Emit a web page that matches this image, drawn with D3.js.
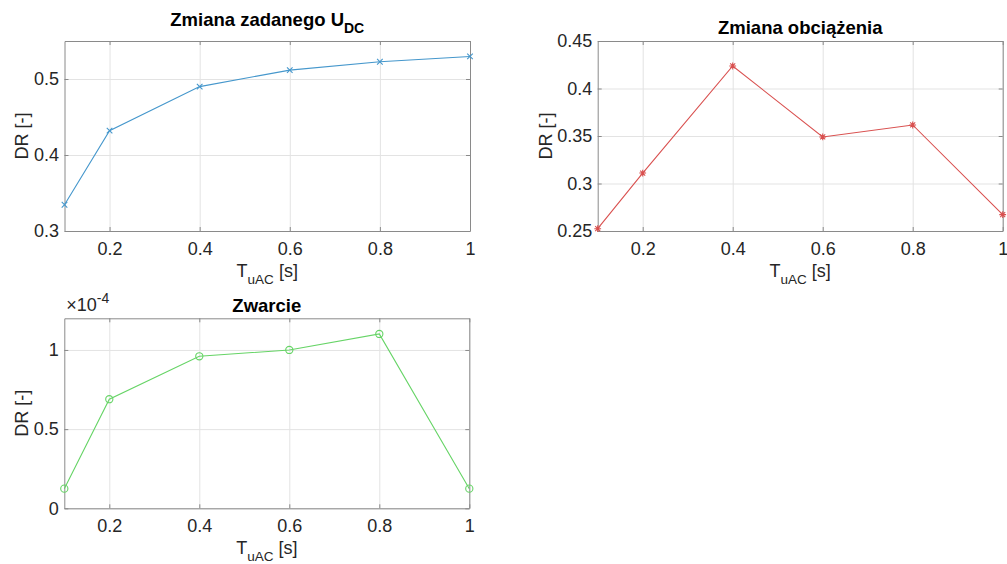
<!DOCTYPE html>
<html>
<head>
<meta charset="utf-8">
<script src="https://cdn.jsdelivr.net/npm/d3@7"></script>
<style>
  html, body { margin: 0; padding: 0; background: #ffffff; }
  svg { display: block; }
  text { font-family: "Liberation Sans", Arial, Helvetica, sans-serif; }
</style>
</head>
<body>
<svg id="chart" width="1007" height="564"></svg>
<script>
// ---- data ----
const tuac = [0.1, 0.2, 0.4, 0.6, 0.8, 1.0];
const drUdc = [0.3345, 0.432, 0.490, 0.5117, 0.5227, 0.5297];
const drLoad = [0.2524, 0.311, 0.4237, 0.349, 0.3616, 0.2672];
const drShort = [1.24e-5, 6.89e-5, 9.60e-5, 1.00e-4, 1.101e-4, 1.24e-5];

const xTicks = [0.2, 0.4, 0.6, 0.8, 1];
const xTickLabels = ["0.2", "0.4", "0.6", "0.8", "1"];
const yTicksUdc = [0.3, 0.4, 0.5];
const yTickLabelsUdc = ["0.3", "0.4", "0.5"];
const yTicksLoad = [0.25, 0.3, 0.35, 0.4, 0.45];
const yTickLabelsLoad = ["0.25", "0.3", "0.35", "0.4", "0.45"];
const yTicksShort = [0, 0.5e-4, 1e-4];
const yTickLabelsShort = ["0", "0.5", "1"];

const svg = d3.select("#chart");

const panels = [
  { left: 64.5, top: 41, width: 405.5, height: 190,
    ydom: [0.3, 0.55], ys: drUdc, yt: yTicksUdc, ytl: yTickLabelsUdc,
    color: "#4597cc", marker: "x", ylabX: -37,
    title: ["Zmiana zadanego U", "DC"], titleDy: -15.3 },
  { left: 597.7, top: 41, width: 405, height: 190,
    ydom: [0.25, 0.45], ys: drLoad, yt: yTicksLoad, ytl: yTickLabelsLoad,
    color: "#d9504f", marker: "star", ylabX: -46,
    title: ["Zmiana obciążenia", null], titleDy: -7 },
  { left: 64.3, top: 318.3, width: 405, height: 190,
    ydom: [0, 1.2e-4], ys: drShort, yt: yTicksShort, ytl: yTickLabelsShort,
    color: "#66d466", marker: "o", ylabX: -36,
    title: ["Zwarcie", null], titleDy: -6.6, exponent: "-4" }
];

panels.forEach(p => {
  const g = svg.append("g").attr("transform", `translate(${p.left},${p.top})`);
  const x = d3.scaleLinear().domain([0.1, 1]).range([0, p.width]);
  const y = d3.scaleLinear().domain(p.ydom).range([p.height, 0]);

  // grid
  g.append("g").attr("class", "grid")
    .call(d3.axisBottom(x).tickValues(xTicks).tickSize(p.height).tickFormat(""))
    .call(s => s.select(".domain").remove())
    .call(s => s.selectAll("line").attr("stroke", "#e3e3e3").attr("stroke-width", 1));
  g.append("g").attr("class", "grid")
    .call(d3.axisLeft(y).tickValues(p.yt).tickSize(-p.width).tickFormat(""))
    .call(s => s.select(".domain").remove())
    .call(s => s.selectAll("line").attr("stroke", "#e3e3e3").attr("stroke-width", 1));

  // axes (inward ticks)
  const tickCol = "#8a8a8a";
  const xb = g.append("g").attr("transform", `translate(0,${p.height})`)
    .call(d3.axisBottom(x).tickValues(xTicks).tickSizeInner(-4).tickSizeOuter(0)
      .tickPadding(10).tickFormat((d, i) => xTickLabels[i]));
  const xt = g.append("g")
    .call(d3.axisTop(x).tickValues(xTicks).tickSizeInner(-4).tickSizeOuter(0).tickFormat(""));
  const yl = g.append("g")
    .call(d3.axisLeft(y).tickValues(p.yt).tickSizeInner(-4).tickSizeOuter(0)
      .tickPadding(5.5).tickFormat((d, i) => p.ytl[i]));
  const yr = g.append("g").attr("transform", `translate(${p.width},0)`)
    .call(d3.axisRight(y).tickValues(p.yt).tickSizeInner(-4).tickSizeOuter(0).tickFormat(""));
  [xb, xt, yl, yr].forEach(a => {
    a.selectAll(".domain").attr("stroke", tickCol).attr("stroke-width", 1);
    a.selectAll(".tick line").attr("stroke", tickCol).attr("stroke-width", 1);
    a.selectAll(".tick text").attr("fill", "#262626").style("font-size", "18px")
      .style("font-family", "'Liberation Sans', Arial, sans-serif");
  });
  xb.selectAll(".tick text").attr("dy", "0.71em").attr("y", 11);

  // line
  const pts = tuac.map((t, i) => [t, p.ys[i]]);
  const line = d3.line().x(d => x(d[0])).y(d => y(d[1]));
  g.append("path").datum(pts).attr("d", line)
    .attr("fill", "none").attr("stroke", p.color).attr("stroke-width", 1.1);

  // markers
  const mk = g.append("g").attr("stroke", p.color).attr("fill", "none").attr("stroke-width", 1.1);
  pts.forEach(d => {
    const cx = x(d[0]), cy = y(d[1]);
    if (p.marker === "o") {
      mk.append("circle").attr("cx", cx).attr("cy", cy).attr("r", 3.6);
    } else if (p.marker === "x") {
      const r = 2.8;
      mk.append("path").attr("d", `M${cx - r},${cy - r}L${cx + r},${cy + r}M${cx - r},${cy + r}L${cx + r},${cy - r}`);
    } else {
      const r = 3.4, r2 = 2.5;
      mk.append("path").attr("d",
        `M${cx - r},${cy}L${cx + r},${cy}M${cx},${cy - r}L${cx},${cy + r}` +
        `M${cx - r2},${cy - r2}L${cx + r2},${cy + r2}M${cx - r2},${cy + r2}L${cx + r2},${cy - r2}`);
    }
  });

  // title
  const t = g.append("text").attr("x", p.width / 2).attr("y", p.titleDy)
    .attr("text-anchor", "middle").attr("fill", "#000")
    .style("font-size", "18.5px").style("font-weight", "bold");
  t.append("tspan").text(p.title[0]);
  if (p.title[1]) t.append("tspan").attr("dy", 7).style("font-size", "14px").text(p.title[1]);

  // x label
  const xlab = g.append("text").attr("x", p.width / 2).attr("y", p.height + 46)
    .attr("text-anchor", "middle").attr("fill", "#262626").style("font-size", "18px");
  xlab.append("tspan").text("T");
  xlab.append("tspan").attr("dy", 7).style("font-size", "13.5px").text("uAC");
  xlab.append("tspan").attr("dy", -7).text(" [s]");

  // y label
  g.append("text").attr("transform", `translate(${p.ylabX},${p.height / 2}) rotate(-90)`)
    .attr("text-anchor", "middle").attr("fill", "#262626").style("font-size", "18px")
    .text("DR [-]");

  // exponent
  if (p.exponent) {
    const e = g.append("text").attr("x", 2).attr("y", -7).attr("fill", "#262626")
      .style("font-size", "18px");
    e.append("tspan").text("×10");
    e.append("tspan").attr("dy", -8).style("font-size", "14px").text(p.exponent);
  }
});
</script>
</body>
</html>
